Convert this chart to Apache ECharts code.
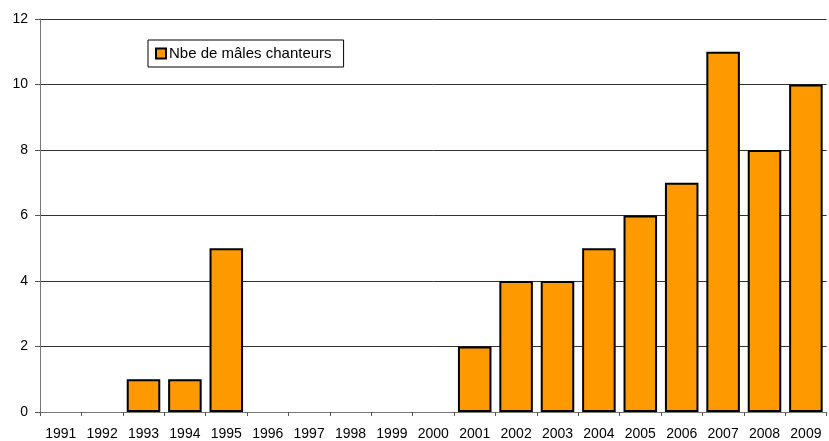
<!DOCTYPE html>
<html><head><meta charset="utf-8">
<script src="https://cdn.jsdelivr.net/npm/echarts@6/dist/echarts.min.js"></script>
<style>html,body{margin:0;padding:0;background:#fff}#c{width:829px;height:441px}</style>
</head><body><div id="c"></div>
<script>
var years = ['1991','1992','1993','1994','1995','1996','1997','1998','1999','2000','2001','2002','2003','2004','2005','2006','2007','2008','2009'];
var males = [0,0,1,1,5,0,0,0,0,0,2,4,4,5,6,7,11,8,10];
var seriesName = 'Nbe de mâles chanteurs';
var yTicks = {min:0, max:12, interval:2};

var barData = males.map(function(v){
  return v === 0 ? {value:v, itemStyle:{borderWidth:0}} : v;
});

var chart = echarts.init(document.getElementById('c'), null, {renderer:'canvas'});
chart.setOption({
  animation:false,
  textStyle:{fontFamily:'Liberation Sans, Arial, sans-serif'},
  grid:{left:40, right:2.4, top:19, bottom:29, containLabel:false},
  legend:{
    left:148, top:40, orient:'horizontal',
    data:[seriesName],
    icon:'rect', itemWidth:10, itemHeight:10, itemGap:2,
    padding:[6,12,6,7],
    borderColor:'#000', borderWidth:1,
    textStyle:{color:'#000', fontSize:15, padding:[0,0,0,-2], fontFamily:'Liberation Sans, Arial, sans-serif'},
    itemStyle:{borderColor:'#000', borderWidth:2}
  },
  xAxis:{
    type:'category', data:years, boundaryGap:true,
    axisLine:{lineStyle:{color:'#777', width:1}},
    axisTick:{show:true, length:4, inside:false, lineStyle:{color:'#555'}},
    axisLabel:{color:'#000', fontSize:14, margin:15, interval:0}
  },
  yAxis:{
    type:'value', min:yTicks.min, max:yTicks.max, interval:yTicks.interval,
    axisLine:{show:true, lineStyle:{color:'#777', width:1}},
    axisTick:{show:true, length:5, lineStyle:{color:'#555'}},
    axisLabel:{color:'#000', fontSize:14, margin:12},
    splitLine:{show:true, lineStyle:{color:'#333', width:1}}
  },
  series:[{
    name:seriesName, type:'bar', data:barData,
    barCategoryGap:'19%',
    itemStyle:{color:'#FF9900', borderColor:'#000', borderWidth:2}
  }]
});
</script></body></html>
